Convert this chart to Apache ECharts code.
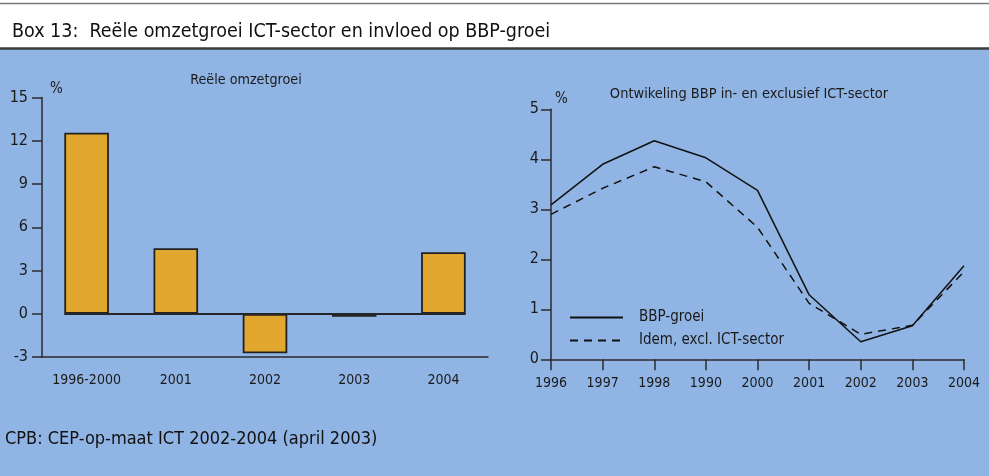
<!DOCTYPE html>
<html>
<head>
<meta charset="utf-8">
<script src="https://cdn.jsdelivr.net/npm/echarts@6/dist/echarts.min.js"></script>
<style>
html,body{margin:0;padding:0;background:#90b5e5;}
#c{width:989px;height:476px;}
</style>
</head>
<body>
<div id="c"></div>
<script>
// ---- data ----
const barCategories = ['1996-2000', '2001', '2002', '2003', '2004'];
const barValues = [12.55, 4.55, -2.73, -0.2, 4.27];
const barTicks = [-3, 0, 3, 6, 9, 12, 15];

const lineCategories = ['1996', '1997', '1998', '1990', '2000', '2001', '2002', '2003', '2004'];
const bbpGroei = [3.09, 3.9, 4.37, 4.03, 3.38, 1.29, 0.35, 0.67, 1.87];
const bbpExclIct = [2.9, 3.42, 3.85, 3.55, 2.64, 1.12, 0.5, 0.68, 1.75];
const lineTicks = [0, 1, 2, 3, 4, 5];

const seriesNames = ['BBP-groei', 'Idem, excl. ICT-sector'];

// ---- chart ----
const FONT = "'Liberation Sans Narrow', 'Arial Narrow', 'DejaVu Sans Condensed', sans-serif";
const TXT = '#1a1a1a';
const AX = '#2b2b2b';
const barHalf = 0.25; // bars take 50% of the band

const chart = echarts.init(document.getElementById('c'), null, {renderer: 'canvas'});

const option = {
  backgroundColor: '#90b5e5',
  animation: false,
  textStyle: {fontFamily: FONT, color: TXT},
  graphic: [
    {type: 'rect', shape: {x: 0, y: 0, width: 989, height: 48}, style: {fill: '#ffffff'}, z: 0},
    {type: 'line', shape: {x1: 0, y1: 3.5, x2: 989, y2: 3.5}, style: {stroke: '#7a7a7a', lineWidth: 1.5}},
    {type: 'line', shape: {x1: 0, y1: 48.5, x2: 989, y2: 48.5}, style: {stroke: '#3c3c3c', lineWidth: 2.5}},
    {type: 'text', left: 12, top: 22, style: {text: 'Box 13:  Reële omzetgroei ICT-sector en invloed op BBP-groei', font: '19.5px ' + FONT, fill: '#111'}},
    {type: 'text', left: 5, top: 430, style: {text: 'CPB: CEP-op-maat ICT 2002-2004 (april 2003)', font: '18px ' + FONT, fill: '#111'}},
    {type: 'text', left: 50, top: 82, style: {text: '%', font: '15px ' + FONT, fill: TXT}},
    {type: 'text', left: 555, top: 92, style: {text: '%', font: '15px ' + FONT, fill: TXT}}
  ],
  title: [
    {text: 'Reële omzetgroei', left: 241, top: 68, textAlign: 'center',
     textStyle: {fontFamily: FONT, fontSize: 14.2, fontWeight: 'normal', color: TXT}},
    {text: 'Ontwikeling BBP in- en exclusief ICT-sector', left: 744, top: 82, textAlign: 'center',
     textStyle: {fontFamily: FONT, fontSize: 14.5, fontWeight: 'normal', color: TXT}}
  ],
  legend: {
    data: seriesNames,
    orient: 'vertical',
    left: 569, top: 310,
    padding: 0,
    itemWidth: 53, itemHeight: 12,
    itemGap: 8,
    itemStyle: {opacity: 0},
    textStyle: {fontFamily: FONT, fontSize: 15, color: TXT, padding: [0, 0, 0, 11]},
    selectedMode: false
  },
  grid: [
    {left: 42, right: 501, top: 97.4, bottom: 118.8},
    {left: 551, right: 25, top: 109.3, bottom: 116.7}
  ],
  xAxis: [
    {type: 'category', gridIndex: 0, data: barCategories, boundaryGap: true,
     axisLine: {onZero: false, lineStyle: {color: AX, width: 1.5}},
     axisTick: {alignWithLabel: true, length: 10, lineStyle: {color: AX, width: 1.5}},
     axisLabel: {color: TXT, fontSize: 14, fontFamily: FONT, margin: 16, interval: 0}},
    {type: 'value', gridIndex: 0, min: -0.5, max: barCategories.length - 0.5, show: false},
    {type: 'category', gridIndex: 1, data: lineCategories, boundaryGap: false,
     axisLine: {onZero: false, lineStyle: {color: AX, width: 1.5}},
     axisTick: {length: 11, lineStyle: {color: AX, width: 1.5}},
     axisLabel: {color: TXT, fontSize: 14, fontFamily: FONT, margin: 17, interval: 0}}
  ],
  yAxis: [
    {type: 'value', gridIndex: 0, min: barTicks[0], max: barTicks[barTicks.length - 1], interval: 3,
     splitLine: {show: false},
     axisLine: {show: true, onZero: false, lineStyle: {color: AX, width: 1.5}},
     axisTick: {show: true, length: 10, lineStyle: {color: AX, width: 1.5}},
     axisLabel: {color: TXT, fontSize: 16, fontFamily: FONT, margin: 14}},
    {type: 'value', gridIndex: 1, min: lineTicks[0], max: lineTicks[lineTicks.length - 1], interval: 1,
     splitLine: {show: false},
     axisLine: {show: true, onZero: false, lineStyle: {color: AX, width: 1.5}},
     axisTick: {show: true, length: 10, lineStyle: {color: AX, width: 1.5}},
     axisLabel: {color: TXT, fontSize: 16, fontFamily: FONT, margin: 12}}
  ],
  series: [
    {type: 'bar', xAxisIndex: 0, yAxisIndex: 0, data: barValues, barWidth: '50%',
     itemStyle: {color: '#e2a72e', borderColor: '#222', borderWidth: 1.8}, z: 2},
    {type: 'line', xAxisIndex: 1, yAxisIndex: 0, symbol: 'none', silent: true,
     data: [[-barHalf, 0], [barCategories.length - 1 + barHalf, 0]],
     lineStyle: {color: '#262626', width: 2}, z: 3},
    {name: seriesNames[0], type: 'line', xAxisIndex: 2, yAxisIndex: 1, data: bbpGroei, symbol: 'none',
     lineStyle: {color: '#111', width: 1.5, type: 'solid'}, itemStyle: {color: '#111'}},
    {name: seriesNames[1], type: 'line', xAxisIndex: 2, yAxisIndex: 1, data: bbpExclIct, symbol: 'none',
     lineStyle: {color: '#111', width: 1.5, type: [8, 6]}, itemStyle: {color: '#111'}}
  ]
};
chart.setOption(option);
</script>
</body>
</html>
